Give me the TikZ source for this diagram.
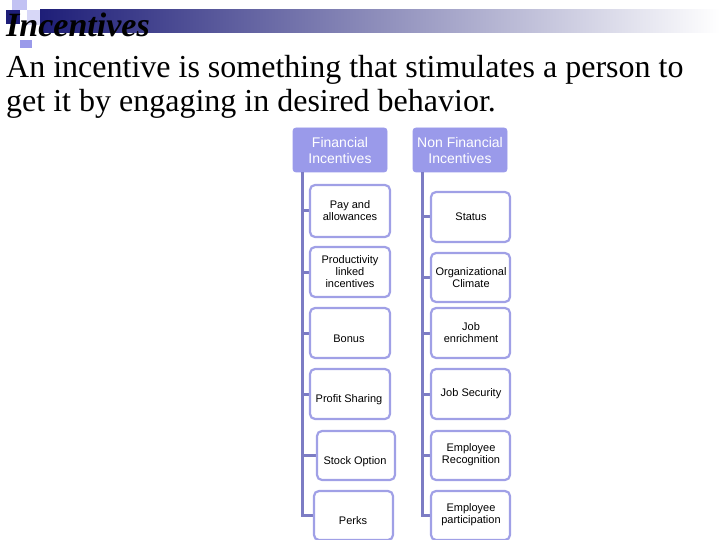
\documentclass[tikz,border=0pt]{standalone}
\usepackage{fontspec}
\setmainfont{Liberation Serif}
\newfontfamily\arialf{Liberation Sans}
\definecolor{hdr}{HTML}{9A9AEA}
\definecolor{lnc}{HTML}{7C7CC4}
\definecolor{bxc}{HTML}{A0A0E6}
\definecolor{navy}{HTML}{1E1E78}
\begin{document}
\begin{tikzpicture}[x=1pt,y=-1pt,
  hd/.style={draw=hdr,fill=hdr,rounded corners=3pt,line width=0.8pt},
  bx/.style={draw=bxc,fill=white,rounded corners=5pt,line width=2.2pt},
  tx/.style={font=\arialf\fontsize{11}{12}\selectfont,align=center,inner sep=0},
  ht/.style={font=\arialf\fontsize{14}{16}\selectfont,align=center,text=white,inner sep=0},
  bt/.style={anchor=base west,inner sep=0,font=\fontsize{32}{34}\selectfont},
  ln/.style={draw=lnc,line width=3pt}]
\useasboundingbox (0,0) rectangle (720,540);
% header decorations
\shade[left color=navy,right color=white] (40,10) rectangle (720,33);
\fill[hdr!60] (12,0) rectangle (27,10);
\fill[hdr!40] (27,10) rectangle (40,25);
\fill[hdr] (20,40) rectangle (32,48);
\fill[navy] (6,10) rectangle (20,24);
\node[anchor=base west,inner sep=0,font=\fontsize{34}{36}\selectfont\bfseries\itshape] (title) at (6,37) {Incentives};
\node[bt] (body1) at (6,78) {An incentive is something that stimulates a person to};
\node[bt] (body2) at (6,112) {get it by engaging in desired behavior.};
% headers
\draw[hd] (293,128) rectangle (387,172);
\node[ht] (h1) at (340,150) {Financial\\Incentives};
\draw[hd] (413,128) rectangle (507,172);
\node[ht] (h2) at (460,150) {Non Financial\\Incentives};
% vertical lines
\coordinate (l0) at (302,172); \coordinate (l1) at (302,517);
\coordinate (r0) at (422,172); \coordinate (r1) at (422,517);
\draw[ln] (l0) -- (l1);
\draw[ln] (r0) -- (r1);
% left boxes
\foreach \n/\xa/\ya/\xb/\yb/\tx/\ty/\t in {
 a1/310/185/390/237/350/211/{Pay and\\allowances},
 a2/310/247/390/297/350/272/{Productivity\\linked\\incentives},
 a3/310/308/390/358/349/339/{Bonus},
 a4/310/369/390/419/349/400/{Profit Sharing},
 a5/317/431/395/480/355/462/{Stock Option},
 a6/314/491/393/540/353/521/{Perks}}{
  \draw[ln] (302,{(\ya+\yb)/2}) -- (\xa,{(\ya+\yb)/2});
  \draw[bx] (\xa,\ya) rectangle (\xb,\yb);
  \node[tx] (\n) at (\tx,\ty) {\t};
}
\foreach \n/\xa/\ya/\xb/\yb/\tx/\ty/\t in {
 b1/431/192/510/242/471/217/{Status},
 b2/431/253/510/302/471/278/{Organizational\\Climate},
 b3/431/308/510/358/471/333/{Job\\enrichment},
 b4/431/369/510/419/471/394/{Job Security},
 b5/431/431/510/480/471/455/{Employee\\Recognition},
 b6/431/491/510/540/471/515/{Employee\\participation}}{
  \draw[ln] (422,{(\ya+\yb)/2}) -- (\xa,{(\ya+\yb)/2});
  \draw[bx] (\xa,\ya) rectangle (\xb,\yb);
  \node[tx] (\n) at (\tx,\ty) {\t};
}
\end{tikzpicture}
\end{document}
